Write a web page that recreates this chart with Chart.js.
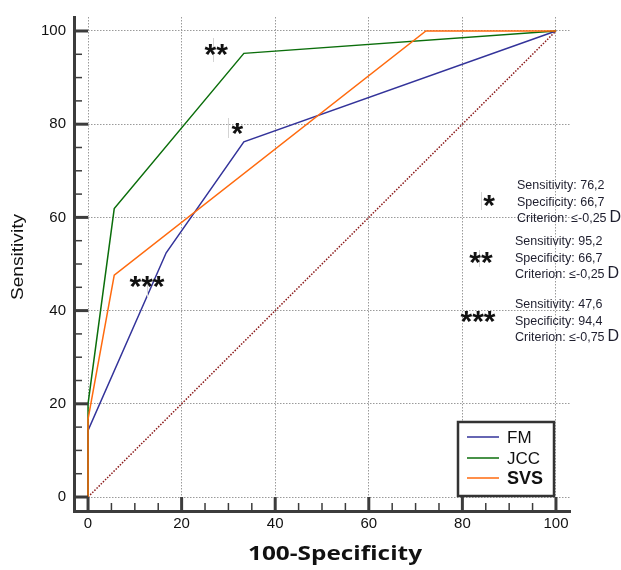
<!DOCTYPE html>
<html>
<head>
<meta charset="utf-8">
<script src="https://cdn.jsdelivr.net/npm/chart.js@4"></script>
<style>
html,body{margin:0;padding:0;background:#fff;}
#wrap{width:621px;height:570px;}
</style>
</head>
<body>
<div id="wrap"><canvas id="c" width="621" height="570"></canvas></div>
<script>
// ---- data ----
const fmX  = [0, 0, 16.7, 33.3, 100];
const fmY  = [0, 14.3, 52.4, 76.2, 100];
const jccX = [0, 0, 5.6, 33.3, 100];
const jccY = [0, 20.0, 61.9, 95.2, 100];
const svsX = [0, 0, 5.6, 72.2, 100];
const svsY = [0, 16.7, 47.6, 100, 100];
const refX = [0, 100];
const refY = [0, 100];
const seriesNames = ['FM', 'JCC', 'SVS'];
const tickValues = [0, 5, 10, 15, 20, 25, 30, 35, 40, 45, 50, 55, 60, 65, 70, 75, 80, 85, 90, 95, 100];
const xTitle = '100-Specificity';
const yTitle = 'Sensitivity';
const cutSens = ['76,2', '95,2', '47,6'];
const cutSpec = ['66,7', '66,7', '94,4'];
const cutCrit = ['≤-0,25', '≤-0,25', '≤-0,75'];
const cutMarks = ['*', '**', '***'];
// curve-side star marks (x = 100-specificity, y = sensitivity)
const markX = [31.9, 27.4, 12.6];
const markY = [78.6, 95.4, 45.8];

const pts = (xs, ys) => xs.map((v, i) => ({x: v, y: ys[i]}));
const colors = {FM: '#33339a', JCC: '#0b6e0b', SVS: '#ff6a0e'};
const font = '"Liberation Sans", Arial, sans-serif';

const extras = {
  id: 'extras',
  afterDraw(chart) {
    const {ctx, chartArea: ca, scales: {x, y}} = chart;
    ctx.save();
    // inward tick marks
    ctx.strokeStyle = '#3c3c3c';
    tickValues.forEach(v => {
      const major = v % 20 === 0;
      ctx.lineWidth = major ? 3 : 1.5;
      const px = x.getPixelForValue(v);
      ctx.beginPath(); ctx.moveTo(px, ca.bottom); ctx.lineTo(px, ca.bottom - (major ? 14 : 8)); ctx.stroke();
      const py = y.getPixelForValue(v);
      ctx.beginPath(); ctx.moveTo(ca.left, py); ctx.lineTo(ca.left + (major ? 14 : 8), py); ctx.stroke();
    });

    // faint cursor-like lines
    ctx.strokeStyle = '#d4d4d4'; ctx.lineWidth = 1;
    [[213, 38, 62], [228, 118, 138], [147, 278, 297], [481, 192, 210], [479, 250, 267]].forEach(l => {
      ctx.beginPath(); ctx.moveTo(l[0] + 0.5, l[1]); ctx.lineTo(l[0] + 0.5, l[2]); ctx.stroke();
    });

    // star marks on curves
    ctx.fillStyle = '#111';
    ctx.textAlign = 'center';
    ctx.textBaseline = 'alphabetic';
    ctx.font = 'bold 30px ' + font;
    markX.forEach((mx, i) => {
      const px = x.getPixelForValue(mx), py = y.getPixelForValue(markY[i]);
      ctx.fillText(cutMarks[i], px, py + 12);
    });

    // right-hand cut-off blocks
    const blocks = [
      {sx: 489, sy: 202, tx: 517, ty: 186},
      {sx: 481, sy: 259, tx: 515, ty: 242},
      {sx: 478, sy: 318, tx: 515, ty: 305}
    ];
    blocks.forEach((b, i) => {
      ctx.fillStyle = '#111';
      ctx.font = 'bold 30px ' + font;
      ctx.textAlign = 'center'; ctx.textBaseline = 'alphabetic';
      ctx.fillText(cutMarks[i], b.sx, b.sy + 13);
      ctx.textAlign = 'left'; ctx.textBaseline = 'middle';
      ctx.font = '12.5px ' + font;
      ctx.fillStyle = '#1e1e2e';
      ctx.fillText('Sensitivity: ' + cutSens[i], b.tx, b.ty);
      ctx.fillText('Specificity: ' + cutSpec[i], b.tx, b.ty + 16.5);
      const crit = 'Criterion: ' + cutCrit[i];
      ctx.fillText(crit, b.tx, b.ty + 33);
      const w = ctx.measureText(crit).width;
      ctx.font = '16px ' + font;
      ctx.fillText('D', b.tx + w + 3, b.ty + 32);
    });

    // legend box
    const lx = 458, ly = 422, lw = 96, lh = 74;
    ctx.fillStyle = '#fff';
    ctx.fillRect(lx, ly, lw, lh);
    ctx.strokeStyle = '#333'; ctx.lineWidth = 2.5;
    ctx.strokeRect(lx, ly, lw, lh);
    const rows = [437, 458, 478];
    seriesNames.forEach((n, i) => {
      ctx.strokeStyle = colors[n]; ctx.lineWidth = 1.5;
      ctx.beginPath(); ctx.moveTo(467, rows[i]); ctx.lineTo(499, rows[i]); ctx.stroke();
      ctx.fillStyle = '#111';
      ctx.textAlign = 'left'; ctx.textBaseline = 'middle';
      ctx.font = (n === 'SVS' ? 'bold 18px ' : '17px ') + font;
      ctx.fillText(n, 507, rows[i] + 1);
    });

    // axis titles
    ctx.fillStyle = '#111';
    ctx.textAlign = 'center'; ctx.textBaseline = 'middle';
    ctx.font = 'bold 19px "Open Sans", sans-serif';
    const tw = ctx.measureText(xTitle).width;
    ctx.save();
    ctx.translate(335, 555);
    ctx.scale(174 / tw, 1);
    ctx.fillText(xTitle, 0, 0);
    ctx.restore();
    ctx.save();
    ctx.translate(19, 257);
    ctx.rotate(-Math.PI / 2);
    ctx.font = '16px ' + font;
    const yw = ctx.measureText(yTitle).width;
    ctx.scale(86 / yw, 1);
    ctx.fillText(yTitle, 0, 0);
    ctx.restore();
    ctx.restore();
  }
};

const axisCommon = {
  type: 'linear',
  min: -3,
  max: 103,
  afterBuildTicks: s => { s.ticks = tickValues.map(v => ({value: v})); },
  ticks: {
    autoSkip: false,
    maxRotation: 0,
    color: '#111',
    font: {family: font, size: 15},
    callback: v => (v % 20 === 0 ? String(v) : '')
  },
  grid: {
    drawTicks: false,
    color: c => (c.tick && c.tick.value % 20 === 0 ? '#9a9a9a' : 'rgba(0,0,0,0)'),
    lineWidth: 1
  },
  border: {display: true, color: '#3c3c3c', width: 3, dash: [1.5, 1.5]}
};

new Chart(document.getElementById('c'), {
  type: 'scatter',
  data: {
    datasets: [
      {label: 'FM', data: pts(fmX, fmY), showLine: true, borderColor: colors.FM, borderWidth: 1.5, pointRadius: 0, order: 3},
      {label: 'JCC', data: pts(jccX, jccY), showLine: true, borderColor: colors.JCC, borderWidth: 1.5, pointRadius: 0, order: 2},
      {label: 'SVS', data: pts(svsX, svsY), showLine: true, borderColor: colors.SVS, borderWidth: 1.5, pointRadius: 0, order: 1},
      {label: 'Reference', data: pts(refX, refY), showLine: true, borderColor: '#8b1a1a', borderWidth: 1.5, borderDash: [1.5, 1.5], pointRadius: 0, order: 4}
    ]
  },
  options: {
    responsive: false,
    animation: false,
    devicePixelRatio: 1,
    layout: {padding: {top: 17, right: 51, left: 0, bottom: 0}},
    plugins: {legend: {display: false}, tooltip: {enabled: false}},
    scales: {
      x: Object.assign({}, axisCommon, {
        position: 'bottom',
        ticks: Object.assign({}, axisCommon.ticks, {padding: 4}),
        afterFit: s => { s.height = 59; }
      }),
      y: Object.assign({}, axisCommon, {
        position: 'left',
        ticks: Object.assign({}, axisCommon.ticks, {padding: 8}),
        afterFit: s => { s.width = 74; }
      })
    }
  },
  plugins: [extras]
});
</script>
</body>
</html>
